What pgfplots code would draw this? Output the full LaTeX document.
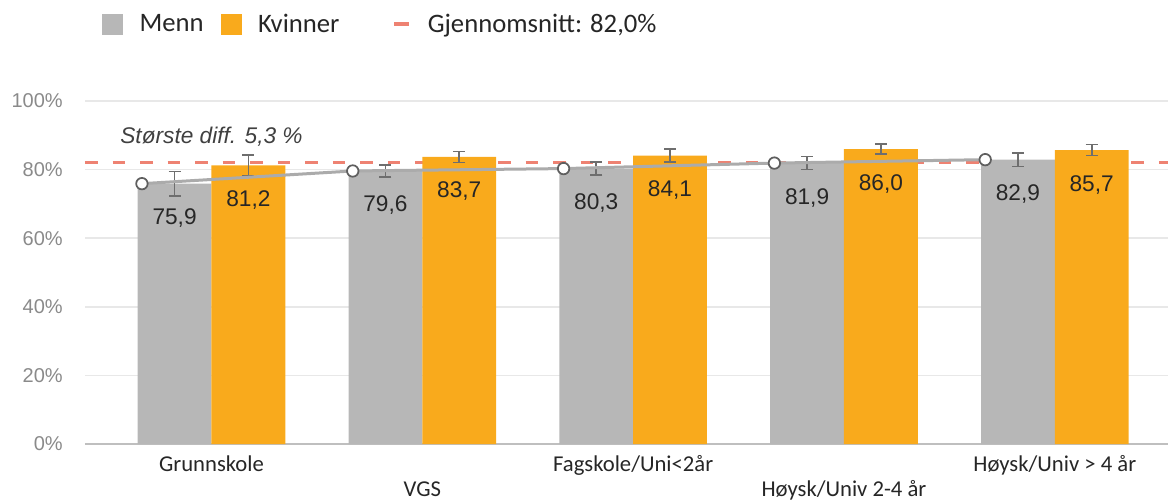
\documentclass[border=0pt]{standalone}
\usepackage{fontspec}
\setmainfont{Liberation Sans}
\newfontfamily\carlito{Carlito}
\usepackage{pgfplots}
\pgfplotsset{compat=1.18}
\usepackage{pgfplotstable}

\definecolor{menn}{HTML}{B7B7B7}
\definecolor{kvinner}{HTML}{F9AA1C}
\definecolor{snitt}{HTML}{EE8272}
\definecolor{linegray}{HTML}{ABABAB}
\definecolor{markgray}{HTML}{5F5F5F}
\definecolor{errgray}{HTML}{6E6E6E}
\definecolor{tickgray}{HTML}{8A8A8A}
\definecolor{gridgray}{HTML}{E8E8E8}
\definecolor{axisgray}{HTML}{BFBFBF}
\definecolor{txt}{HTML}{262626}
\definecolor{annot}{HTML}{404040}

% x = category, lx = position of the trend point (left edge of the Menn bar)
\pgfplotstableread{
x lx men menerr women womenerr
0 -0.33 75.9 3.5 81.2 3.0
1 0.67 79.6 1.7 83.7 1.6
2 1.67 80.3 1.9 84.1 1.9
3 2.67 81.9 1.9 86.0 1.4
4 3.67 82.9 2.0 85.7 1.6
}\data

\pgfplotsset{
  errs/.style={forget plot, draw=none, mark=none,
    error bars/.cd, y dir=both, y explicit,
    error bar style={draw=errgray, line width=1.25pt},
    error mark options={rotate=90, mark size=4.5pt, line width=1.25pt, draw=errgray}},
  vals/.style={forget plot, draw=none, mark=none,
    nodes near coords={\pgfmathprintnumber[fixed,fixed zerofill,precision=1,use comma]{\pgfplotspointmeta}},
    every node near coord/.append style={anchor=center, yshift=-25.9pt,
      font=\fontsize{17}{20}\selectfont, text=txt}},
}

\begin{document}
\begin{tikzpicture}
% 1 px of the reference = 0.75pt
\path[use as bounding box] (-63.75pt,-42.75pt) rectangle (812.25pt,333pt);

\begin{axis}[
  scale only axis, width=812.25pt, height=257.25pt,
  xmin=-0.6, xmax=4.537, ymin=0, ymax=100,
  enlargelimits=false, clip=false,
  axis x line*=bottom, axis y line*=left,
  axis line style={-},
  x axis line style={draw=axisgray, line width=1.5pt},
  y axis line style={draw=none},
  major tick length=0pt,
  ytick={0,20,...,100},
  yticklabel={\pgfmathprintnumber{\tick}\%},
  yticklabel style={font=\fontsize{15}{18}\selectfont, text=tickgray,
    anchor=east, inner sep=0pt, xshift=-16.5pt},
  ymajorgrids, grid style={draw=gridgray, line width=1.2pt},
  xtick={0,...,4},
  xticklabels={\strut Grunnskole, {\strut\\VGS}, \strut Fagskole/Uni<2år,
    {\strut\\Høysk/Univ 2-4 år}, \strut Høysk/Univ > 4 år},
  xticklabel style={font=\carlito\fontsize{17}{18.75}\selectfont, align=center,
    anchor=north, inner sep=0pt, text=txt, yshift=-7.6pt},
  /pgf/number format/assume math mode=true,
  legend columns=-1,
  legend style={draw=none, fill=none, at={(axis description cs:0,1)},
    anchor=west, xshift=12.75pt, yshift=57.75pt, inner sep=0pt, outer sep=0pt,
    font=\carlito\fontsize{20}{24}\selectfont, text=txt,
    nodes={inner sep=0pt},
    /tikz/every odd column/.append style={column sep=12.75pt},
    /tikz/every even column/.append style={column sep=12.75pt}},
]

% legend
\addlegendimage{fill=menn, legend image code/.code={\fill[menn] (0pt,-7.5pt) rectangle (15pt,7.5pt);}}
\addlegendentry{Menn}
\addlegendimage{fill=kvinner, legend image code/.code={\fill[kvinner] (0pt,-7.5pt) rectangle (15pt,7.5pt);}}
\addlegendentry{Kvinner\kern27pt}
\addlegendimage{legend image code/.code={\draw[snitt, line width=2.5pt] (0pt,0pt) -- (11.25pt,0pt);}}
\addlegendentry{Gjennomsnitt: 82,0\%}

% average line (behind the bars)
\addplot[forget plot, snitt, line width=2.5pt, dash pattern=on 9.4pt off 11.25pt]
  coordinates {(-0.6,82) (4.537,82)};

% bars
\addplot[forget plot, ybar, bar width=0.35, bar shift=-0.175, fill=menn, draw=none]
  table[x=x, y=men] {\data};
\addplot[forget plot, ybar, bar width=0.35, bar shift=0.175, fill=kvinner, draw=none]
  table[x=x, y=women] {\data};

% error bars at the bar centres
\addplot[errs] table[x expr=\thisrow{x}-0.175, y=men, y error=menerr] {\data};
\addplot[errs] table[x expr=\thisrow{x}+0.175, y=women, y error=womenerr] {\data};

% value labels inside the bar tops
\addplot[vals] table[x expr=\thisrow{x}-0.175, y=men] {\data};
\addplot[vals] table[x expr=\thisrow{x}+0.175, y=women] {\data};

% trend line over Menn
\addplot[forget plot, linegray, line width=2.25pt, mark=*,
  mark options={draw=markgray, fill=white, line width=1.3pt}, mark size=4.3pt]
  table[x=lx, y=men] {\data};

\node[font=\itshape\fontsize{17}{20}\selectfont, text=annot] at (axis cs:0.0,89.5) {Største diff. 5,3 \%};

\end{axis}
\end{tikzpicture}
\end{document}
